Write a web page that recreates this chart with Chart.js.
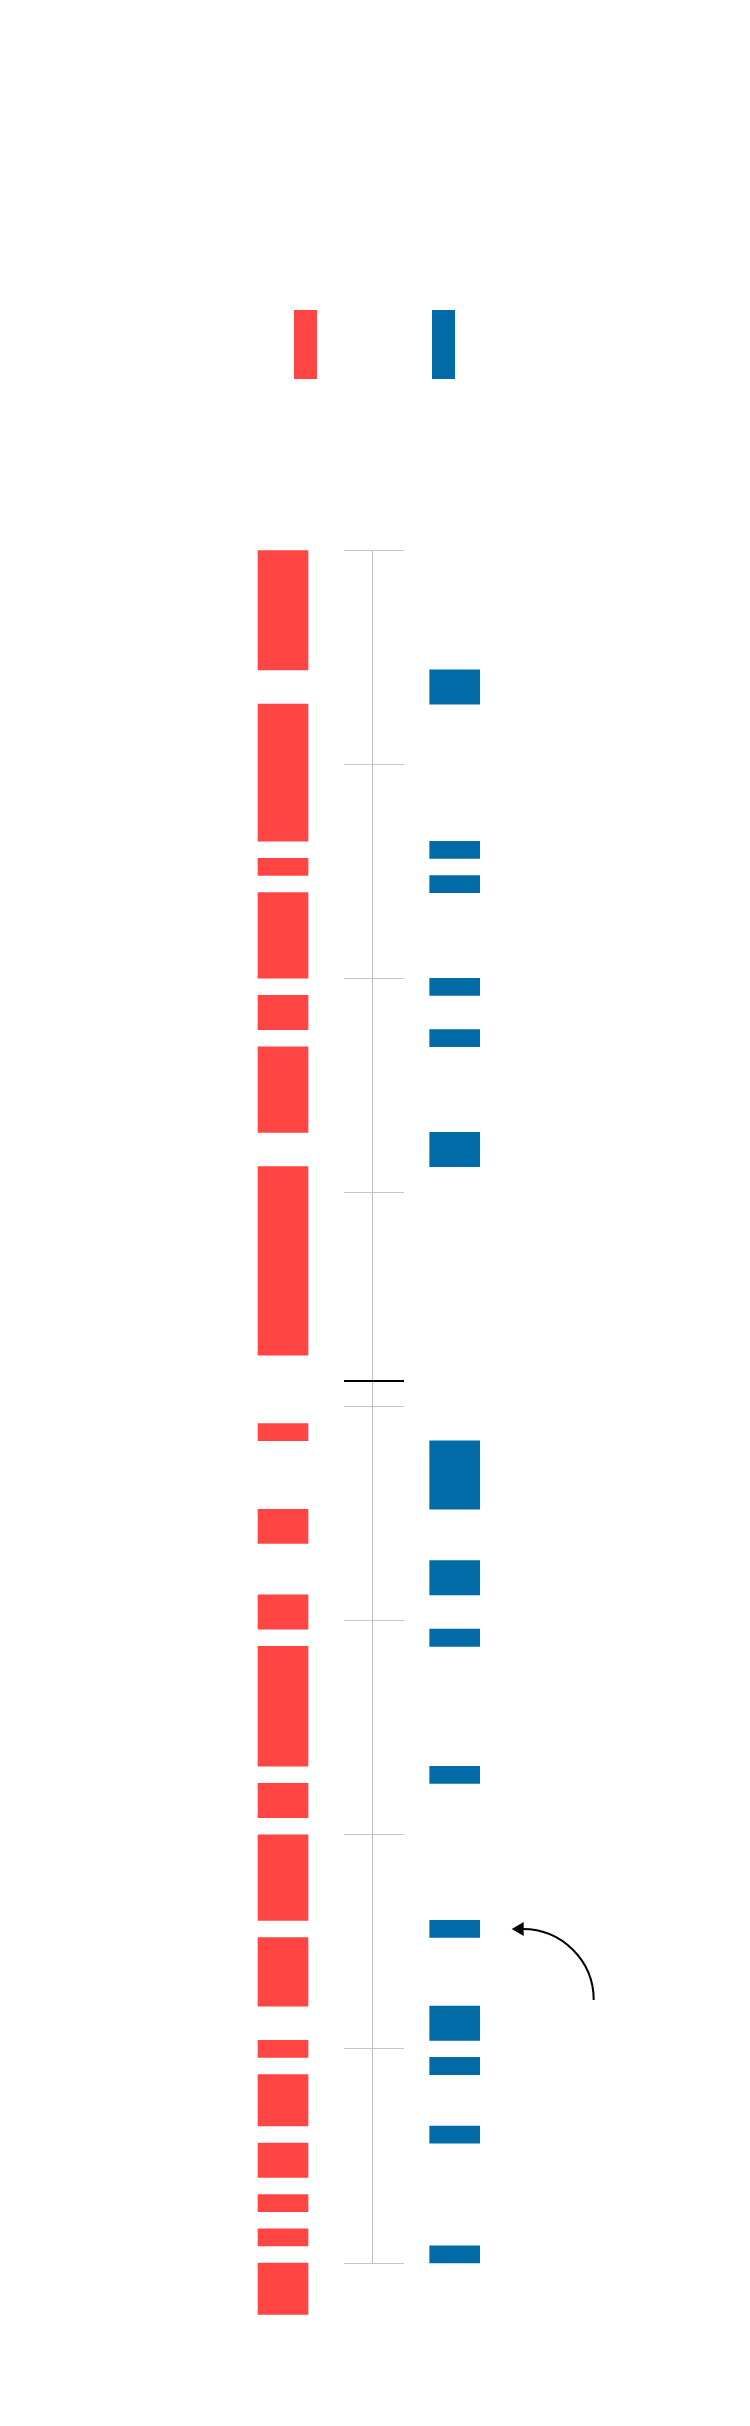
<!DOCTYPE html>
<html>
<head>
<meta charset="utf-8">
<script src="https://cdn.jsdelivr.net/npm/chart.js@4/dist/chart.umd.min.js"></script>
<style>
  html, body { margin: 0; padding: 0; background: #fff; }
  #wrap { position: relative; width: 750px; height: 2426px; }
  .swatch { position: absolute; top: 310px; width: 23px; height: 69px; }
</style>
</head>
<body>
<div id="wrap">
  <div class="swatch" style="left:294px;background:#ff4444;"></div>
  <div class="swatch" style="left:432px;background:#006ba6;"></div>
  <canvas id="chart"></canvas>
</div>
<script>
/* ===== Data (time measured in periods, 0 at the top) ===== */
const SERIES      = ['red', 'blue'];
const SERIES_X    = [-1, 1];
const RED_START   = [0, 9, 18, 20, 26, 29, 36, 51, 56, 61, 64, 72, 75, 81, 87, 89, 93, 96, 98, 100];
const RED_END     = [7, 17, 19, 25, 28, 34, 47, 52, 58, 63, 71, 74, 80, 85, 88, 92, 95, 97, 99, 103];
const BLUE_START  = [7, 17, 19, 25, 28, 34, 52, 59, 63, 71, 80, 85, 88, 92, 99];
const BLUE_END    = [9, 18, 20, 26, 29, 36, 56, 61, 64, 72, 81, 87, 89, 93, 100];
const TIME_TICKS  = [0, 12.5, 25, 37.5, 50, 62.5, 75, 87.5, 100];
const BREAK_AT    = 48.5;   // black marker line in the gap
const ARROW_BLUE_INDEX = 10; // blue span the arrow points at

const COLORS = { red: '#ff4444', blue: '#006ba6' };

function spans(x, starts, ends) {
  return starts.map((s, i) => ({ x: x, y: [s, ends[i]] }));
}

// ===== Curved arrow annotation =====
const arrowPlugin = {
  id: 'arrow',
  afterDatasetsDraw(chart) {
    const el = chart.getDatasetMeta(1).data[ARROW_BLUE_INDEX];
    if (!el) return;
    const tipX = el.x + el.width / 2 + 32;
    const tipY = (el.y + el.base) / 2;
    const r = 71;
    const ctx = chart.ctx;
    ctx.save();
    ctx.strokeStyle = '#000';
    ctx.fillStyle = '#000';
    ctx.lineWidth = 2;
    ctx.beginPath();
    ctx.arc(tipX + 11, tipY + r, r, -Math.PI / 2, 0);
    ctx.stroke();
    ctx.beginPath();
    ctx.moveTo(tipX, tipY);
    ctx.lineTo(tipX + 12, tipY - 7);
    ctx.lineTo(tipX + 12, tipY + 7);
    ctx.closePath();
    ctx.fill();
    ctx.restore();
  }
};

new Chart(document.getElementById('chart'), {
  type: 'bar',
  data: {
    datasets: [
      { label: SERIES[0], data: spans(SERIES_X[0], RED_START, RED_END), backgroundColor: COLORS.red },
      { label: SERIES[1], data: spans(SERIES_X[1], BLUE_START, BLUE_END), backgroundColor: COLORS.blue }
    ]
  },
  options: {
    responsive: true,
    maintainAspectRatio: false,
    animation: false,
    layout: { padding: { left: 344, right: 346, top: 550, bottom: 163 } },
    datasets: { bar: { barThickness: 50, grouped: false, borderWidth: 0, clip: false } },
    plugins: { legend: { display: false }, tooltip: { enabled: false } },
    scales: {
      x: {
        type: 'linear',
        offset: false,
        min: -0.2895,
        max: 0.4094,
        afterBuildTicks: s => { s.ticks = [{ value: 0.04 }]; },
        afterFit: s => { s.height = 0; },
        ticks: { display: false },
        border: { display: false },
        grid: { offset: false, color: '#bdbdbd', lineWidth: 1, drawTicks: false }
      },
      y: {
        type: 'linear',
        reverse: true,
        min: 0,
        max: 100,
        afterBuildTicks: s => {
          s.ticks = TIME_TICKS.map(v => ({ value: v })).concat([{ value: BREAK_AT }]);
        },
        afterFit: s => { s.width = 0; },
        ticks: { display: false },
        border: { display: false },
        grid: {
          drawTicks: false,
          color: c => c.tick && c.tick.value === BREAK_AT ? '#000' : '#c6c6c6',
          lineWidth: c => c.tick && c.tick.value === BREAK_AT ? 2 : 1
        }
      }
    }
  },
  plugins: [arrowPlugin]
});
</script>
</body>
</html>
